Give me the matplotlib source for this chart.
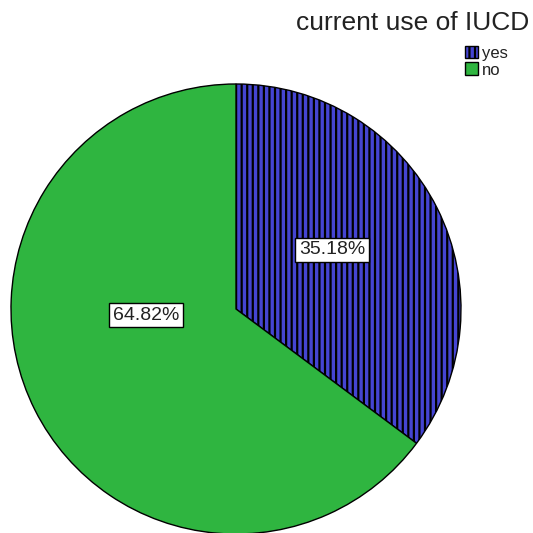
import matplotlib.pyplot as plt

plt.rcParams['font.family'] = ['Liberation Sans', 'DejaVu Sans']
plt.rcParams['hatch.linewidth'] = 1.6
plt.rcParams['hatch.color'] = '#14143c'

# ========== DATA ==========
categories = ["yes", "no"]
shares = [35.18, 64.82]
colors = ["#4545d2", "#2fb540"]
hatches = ["|||", None]
title = "current use of IUCD"

# ========== PLOT ==========
fig = plt.figure(figsize=(5.33, 5.33), dpi=100)
ax = fig.add_axes([0, 0, 1, 1])

wedges, _ = ax.pie(shares, colors=colors, startangle=90, counterclock=False,
                   center=(236, 224), radius=225, frame=True,
                   wedgeprops=dict(edgecolor='black', linewidth=1))
for w, h in zip(wedges, hatches):
    if h:
        w.set_hatch(h)
ax.set_xlim(0, 533)
ax.set_ylim(0, 533)
ax.set_aspect('equal')
ax.axis('off')

# label boxes (pixel coords, y from bottom)
label_pos = [(332, 283), (146, 218)]
for (x, y), v in zip(label_pos, shares):
    ax.text(x, y, f"{v:.2f}%", ha='center', va='center', fontsize=14, color='#222222',
            bbox=dict(boxstyle='square,pad=0.2', facecolor='white', edgecolor='black', linewidth=1))

fig.text(0.993, 0.957, title, ha='right', va='center', fontsize=19, color='#222222')
leg = fig.legend(wedges, categories, loc='upper left', bbox_to_anchor=(0.856, 0.93),
                 frameon=False, fontsize=12, handlelength=0.8, handleheight=0.8,
                 handletextpad=0.25, labelspacing=0.1, borderpad=0)
for t in leg.get_texts():
    t.set_color('#222222')

fig.savefig("out.png", dpi=100)
